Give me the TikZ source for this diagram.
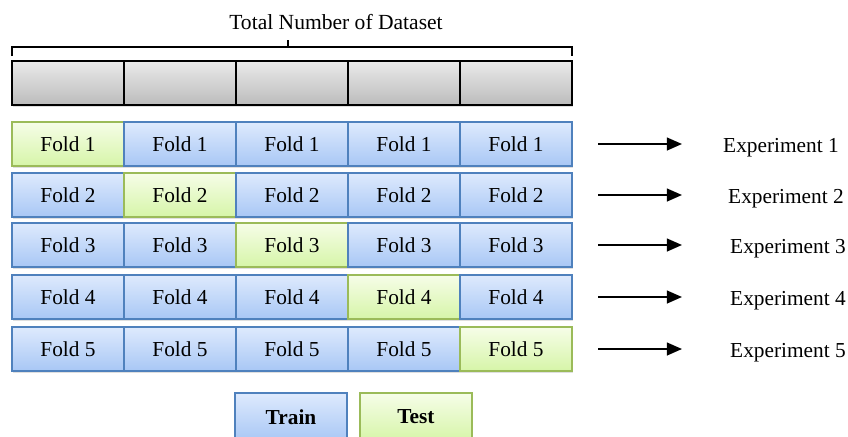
\documentclass[tikz,border=0pt]{standalone}
\usepackage{xcolor}
\usepackage{tikz}
\usepackage{fontspec}
\setmainfont{Liberation Serif}[Ligatures=TeX]
\newfontfamily\timesfont{Liberation Serif}
\usetikzlibrary{arrows.meta, positioning, calc, shadows}
\definecolor{trainline}{RGB}{79,129,189}
\definecolor{traintop}{RGB}{222,234,253}
\definecolor{trainbot}{RGB}{168,199,245}
\definecolor{testline}{RGB}{155,187,89}
\definecolor{testtop}{RGB}{246,253,232}
\definecolor{testbot}{RGB}{214,245,168}
\definecolor{datatop}{RGB}{234,234,234}
\definecolor{databot}{RGB}{188,188,188}
\newcommand{\labelfont}{\timesfont\fontsize{18.2}{21}\selectfont}
\tikzset{
  cell/.style={rectangle, minimum width=3.36cm, minimum height=1.32cm, inner sep=0pt, outer sep=0pt, align=center, font=\labelfont, line width=1.4pt, drop shadow={opacity=0.25, shadow xshift=1pt, shadow yshift=-1.5pt}},
  train/.style={cell, draw=trainline, top color=traintop, bottom color=trainbot},
  test/.style={cell, draw=testline, top color=testtop, bottom color=testbot},
  data/.style={cell, draw=black, line width=1.6pt, top color=datatop, bottom color=databot},
  explabel/.style={font=\labelfont, inner sep=0pt, anchor=base west},
  exparrow/.style={-{Triangle[length=13pt, width=11pt]}, line width=1.6pt, shorten <=0.78cm},
}

\begin{document}
\begin{tikzpicture}[x=0.03cm, y=-0.03cm, node distance=0cm]
\clip (0,0) rectangle (848,436);
% whole dataset
\node (title) [font=\timesfont\fontsize{18.4}{21}\selectfont] at (336,22) {Total Number of Dataset};
\node (d1) [data, anchor=north west] at (12,61) {};
\node (d2) [data, right=of d1] {};
\node (d3) [data, right=of d2] {};
\node (d4) [data, right=of d3] {};
\node (d5) [data, right=of d4] {};
\coordinate (bl) at (12,56);
\coordinate (br) at (572,56);
\coordinate (bt) at (288,40);
\draw[line width=1.1pt] (bl) -- (bl |- 0,47) -- (br |- 0,47) -- (br);
\draw[line width=1.1pt] (bt) -- (bt |- 0,47);
% experiment 1
\node (f11) [test, anchor=north west] at (12,122) {Fold 1};
\node (f12) [train, right=of f11] {Fold 1};
\node (f13) [train, right=of f12] {Fold 1};
\node (f14) [train, right=of f13] {Fold 1};
\node (f15) [train, right=of f14] {Fold 1};
% experiment 2
\node (f21) [train, anchor=north west] at (12,173) {Fold 2};
\node (f22) [test, right=of f21] {Fold 2};
\node (f23) [train, right=of f22] {Fold 2};
\node (f24) [train, right=of f23] {Fold 2};
\node (f25) [train, right=of f24] {Fold 2};
% experiment 3
\node (f31) [train, anchor=north west] at (12,223) {Fold 3};
\node (f32) [train, right=of f31] {Fold 3};
\node (f33) [test, right=of f32] {Fold 3};
\node (f34) [train, right=of f33] {Fold 3};
\node (f35) [train, right=of f34] {Fold 3};
% experiment 4
\node (f41) [train, anchor=north west] at (12,275) {Fold 4};
\node (f42) [train, right=of f41] {Fold 4};
\node (f43) [train, right=of f42] {Fold 4};
\node (f44) [test, right=of f43] {Fold 4};
\node (f45) [train, right=of f44] {Fold 4};
% experiment 5
\node (f51) [train, anchor=north west] at (12,327) {Fold 5};
\node (f52) [train, right=of f51] {Fold 5};
\node (f53) [train, right=of f52] {Fold 5};
\node (f54) [train, right=of f53] {Fold 5};
\node (f55) [test, right=of f54] {Fold 5};
% experiment labels
\node (e1) [explabel] at (723,152) {Experiment 1};
\node (e2) [explabel] at (728,203) {Experiment 2};
\node (e3) [explabel] at (730,253) {Experiment 3};
\node (e4) [explabel] at (730,305) {Experiment 4};
\node (e5) [explabel] at (730,357) {Experiment 5};
\draw[exparrow, shorten >=1.23cm] (f15.east) -- (e1.west |- f15.east);
\draw[exparrow, shorten >=1.38cm] (f25.east) -- (e2.west |- f25.east);
\draw[exparrow, shorten >=1.44cm] (f35.east) -- (e3.west |- f35.east);
\draw[exparrow, shorten >=1.44cm] (f45.east) -- (e4.west |- f45.east);
\draw[exparrow, shorten >=1.44cm] (f55.east) -- (e5.west |- f55.east);
% legend
\node (tr) [train, anchor=north west, minimum height=1.44cm, font=\labelfont\bfseries] at (235,393) {Train};
\node (te) [test, anchor=north west, minimum height=1.44cm, font=\labelfont\bfseries] at (360,393) {Test};
\end{tikzpicture}
\end{document}
